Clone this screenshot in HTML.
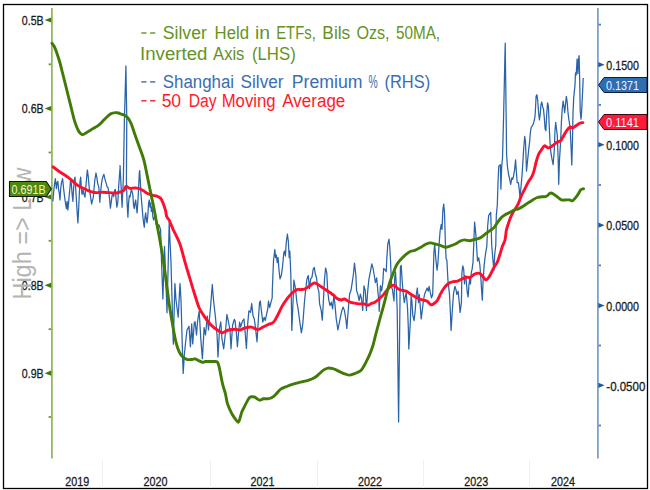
<!DOCTYPE html>
<html><head><meta charset="utf-8"><style>
html,body{margin:0;padding:0;background:#fff;overflow:hidden;}
svg{display:block;font-family:"Liberation Sans", sans-serif;}
</style></head><body>
<svg width="650" height="490" viewBox="0 0 650 490">
<rect x="3.5" y="4.5" width="644" height="484" fill="none" stroke="#000" stroke-width="1.3"/>
<line x1="102.5" y1="460" x2="102.5" y2="488" stroke="#f0f0f0" stroke-width="1"/>
<line x1="210.5" y1="460" x2="210.5" y2="488" stroke="#f0f0f0" stroke-width="1"/>
<line x1="317.5" y1="460" x2="317.5" y2="488" stroke="#f0f0f0" stroke-width="1"/>
<line x1="423.5" y1="460" x2="423.5" y2="488" stroke="#f0f0f0" stroke-width="1"/>
<line x1="529.5" y1="460" x2="529.5" y2="488" stroke="#f0f0f0" stroke-width="1"/>
<line x1="51.9" y1="8" x2="51.9" y2="458.5" stroke="#94b860" stroke-width="1.8"/>
<line x1="597.9" y1="8" x2="597.9" y2="458.5" stroke="#7ba3cb" stroke-width="1.8"/>
<path d="M44.6 20 L51.2 17.4 L51.2 22.6 Z" fill="#3d7a05"/>
<text x="43.6" y="24.6" text-anchor="end" font-size="13.6" fill="#1a1a1a" stroke="#1a1a1a" stroke-width="0.3" textLength="21.8" lengthAdjust="spacingAndGlyphs">0.5B</text>
<path d="M44.6 108.5 L51.2 105.9 L51.2 111.1 Z" fill="#3d7a05"/>
<text x="43.6" y="113.1" text-anchor="end" font-size="13.6" fill="#1a1a1a" stroke="#1a1a1a" stroke-width="0.3" textLength="21.8" lengthAdjust="spacingAndGlyphs">0.6B</text>
<path d="M44.6 197 L51.2 194.4 L51.2 199.6 Z" fill="#3d7a05"/>
<text x="43.6" y="201.6" text-anchor="end" font-size="13.6" fill="#1a1a1a" stroke="#1a1a1a" stroke-width="0.3" textLength="21.8" lengthAdjust="spacingAndGlyphs">0.7B</text>
<path d="M44.6 285.3 L51.2 282.7 L51.2 287.90000000000003 Z" fill="#3d7a05"/>
<text x="43.6" y="289.90000000000003" text-anchor="end" font-size="13.6" fill="#1a1a1a" stroke="#1a1a1a" stroke-width="0.3" textLength="21.8" lengthAdjust="spacingAndGlyphs">0.8B</text>
<path d="M44.6 373.2 L51.2 370.59999999999997 L51.2 375.8 Z" fill="#3d7a05"/>
<text x="43.6" y="377.8" text-anchor="end" font-size="13.6" fill="#1a1a1a" stroke="#1a1a1a" stroke-width="0.3" textLength="21.8" lengthAdjust="spacingAndGlyphs">0.9B</text>
<line x1="48.6" y1="64.3" x2="51" y2="64.3" stroke="#6a9e35" stroke-width="1.8"/>
<line x1="48.6" y1="152.5" x2="51" y2="152.5" stroke="#6a9e35" stroke-width="1.8"/>
<line x1="48.6" y1="240.8" x2="51" y2="240.8" stroke="#6a9e35" stroke-width="1.8"/>
<line x1="48.6" y1="329.2" x2="51" y2="329.2" stroke="#6a9e35" stroke-width="1.8"/>
<line x1="48.6" y1="417" x2="51" y2="417" stroke="#6a9e35" stroke-width="1.8"/>
<path d="M604.6 64.7 L598.3 62.1 L598.3 67.3 Z" fill="#1f5aa0"/>
<text x="606.3" y="69.9" font-size="12.8" fill="#1a1a1a" stroke="#1a1a1a" stroke-width="0.3" textLength="32.7" lengthAdjust="spacingAndGlyphs">0.1500</text>
<path d="M604.6 144.7 L598.3 142.1 L598.3 147.29999999999998 Z" fill="#1f5aa0"/>
<text x="606.3" y="149.89999999999998" font-size="12.8" fill="#1a1a1a" stroke="#1a1a1a" stroke-width="0.3" textLength="32.7" lengthAdjust="spacingAndGlyphs">0.1000</text>
<path d="M604.6 225.2 L598.3 222.6 L598.3 227.79999999999998 Z" fill="#1f5aa0"/>
<text x="606.3" y="230.39999999999998" font-size="12.8" fill="#1a1a1a" stroke="#1a1a1a" stroke-width="0.3" textLength="32.7" lengthAdjust="spacingAndGlyphs">0.0500</text>
<path d="M604.6 305.6 L598.3 303.0 L598.3 308.20000000000005 Z" fill="#1f5aa0"/>
<text x="606.3" y="310.8" font-size="12.8" fill="#1a1a1a" stroke="#1a1a1a" stroke-width="0.3" textLength="32.7" lengthAdjust="spacingAndGlyphs">0.0000</text>
<path d="M604.6 385.3 L598.3 382.7 L598.3 387.90000000000003 Z" fill="#1f5aa0"/>
<text x="606.3" y="390.5" font-size="12.8" fill="#1a1a1a" stroke="#1a1a1a" stroke-width="0.3" textLength="39" lengthAdjust="spacingAndGlyphs">-0.0500</text>
<line x1="598.5" y1="24.6" x2="601" y2="24.6" stroke="#4a80c0" stroke-width="1.8"/>
<line x1="598.5" y1="104.9" x2="601" y2="104.9" stroke="#4a80c0" stroke-width="1.8"/>
<line x1="598.5" y1="185" x2="601" y2="185" stroke="#4a80c0" stroke-width="1.8"/>
<line x1="598.5" y1="265.4" x2="601" y2="265.4" stroke="#4a80c0" stroke-width="1.8"/>
<line x1="598.5" y1="345.5" x2="601" y2="345.5" stroke="#4a80c0" stroke-width="1.8"/>
<line x1="598.5" y1="425.5" x2="601" y2="425.5" stroke="#4a80c0" stroke-width="1.8"/>
<text x="77.2" y="485.6" text-anchor="middle" font-size="13.2" fill="#1a1a1a" stroke="#1a1a1a" stroke-width="0.3" textLength="24" lengthAdjust="spacingAndGlyphs">2019</text>
<text x="155.4" y="485.6" text-anchor="middle" font-size="13.2" fill="#1a1a1a" stroke="#1a1a1a" stroke-width="0.3" textLength="24" lengthAdjust="spacingAndGlyphs">2020</text>
<text x="262.5" y="485.6" text-anchor="middle" font-size="13.2" fill="#1a1a1a" stroke="#1a1a1a" stroke-width="0.3" textLength="24" lengthAdjust="spacingAndGlyphs">2021</text>
<text x="370" y="485.6" text-anchor="middle" font-size="13.2" fill="#1a1a1a" stroke="#1a1a1a" stroke-width="0.3" textLength="24" lengthAdjust="spacingAndGlyphs">2022</text>
<text x="476.2" y="485.6" text-anchor="middle" font-size="13.2" fill="#1a1a1a" stroke="#1a1a1a" stroke-width="0.3" textLength="24" lengthAdjust="spacingAndGlyphs">2023</text>
<text x="563.1" y="485.6" text-anchor="middle" font-size="13.2" fill="#1a1a1a" stroke="#1a1a1a" stroke-width="0.3" textLength="24" lengthAdjust="spacingAndGlyphs">2024</text>
<text transform="translate(30.5,299.6) rotate(-90)" font-size="25" fill="#b4b4b4" textLength="132" lengthAdjust="spacingAndGlyphs">High =&gt; Low</text>
<polyline points="52.9,201.4 53.6,192.9 54.3,185.7 55.4,178.6 56.4,188.6 57.1,182.9 57.9,181.4 58.6,190.0 59.3,192.9 60.0,200.0 60.7,188.6 61.4,182.9 62.6,178.6 63.6,188.6 64.3,194.3 65.0,200.0 65.7,204.3 66.4,208.6 67.1,201.4 67.9,210.0 68.6,202.9 69.3,194.3 70.0,187.1 70.7,178.6 71.4,184.3 72.1,194.3 72.9,201.4 73.6,188.6 74.3,180.0 75.0,177.1 75.7,188.6 76.4,200.0 77.1,211.4 77.9,222.9 78.6,210.0 79.3,194.3 80.0,181.4 80.7,177.1 81.4,188.6 82.1,194.3 83.1,190.0 84.0,194.3 85.0,197.1 85.7,188.6 86.9,174.3 87.4,170.0 88.3,177.1 89.3,188.6 90.0,192.6 91.6,204.0 92.4,200.7 93.3,197.4 94.1,187.7 94.9,179.5 96.0,173.0 96.9,177.9 97.7,183.6 98.5,186.0 99.0,189.3 99.8,202.3 100.6,192.6 101.4,184.4 102.2,179.5 103.1,176.2 103.9,174.3 104.7,177.9 105.5,181.1 106.3,183.6 107.1,186.8 108.0,187.7 108.8,192.6 109.6,199.1 110.4,208.1 111.2,202.3 112.0,195.8 112.9,192.6 113.7,196.6 114.5,190.9 115.3,189.3 116.1,199.1 116.9,207.2 117.8,202.3 118.6,187.7 119.4,176.2 120.2,166.4 120.0,165.7 120.7,178.6 122.1,207.1 122.9,188.6 123.4,177.1 124.4,120.0 125.9,66.0 126.8,120.0 126.4,181.4 127.1,202.9 127.9,217.1 128.6,202.9 129.3,195.7 130.0,197.1 130.7,192.9 131.4,190.0 132.1,191.4 132.9,195.7 133.6,205.7 134.3,208.6 135.0,202.9 135.7,200.0 136.4,207.1 137.1,212.9 137.9,201.4 138.6,188.6 139.3,172.9 139.7,170.7 140.3,181.4 141.1,195.7 142.1,207.1 142.9,217.1 143.6,222.9 144.3,227.1 145.0,217.1 145.7,212.9 146.4,220.0 147.1,222.9 147.9,214.3 148.6,202.9 149.3,200.0 150.0,207.1 150.7,202.9 151.4,211.4 152.1,207.1 152.9,217.1 153.6,220.0 154.9,215.3 156.5,225.1 159.0,224.9 160.6,229.8 161.5,261.0 162.9,299.0 164.5,246.5 165.6,272.7 167.0,312.7 169.2,222.5 171.0,262.9 173.3,344.2 174.9,283.5 176.0,300.0 178.2,317.2 180.0,283.5 181.0,300.0 182.7,359.9 183.2,373.4 184.3,355.0 185.4,344.2 187.0,330.0 189.0,326.2 190.4,346.8 191.7,323.9 192.7,343.9 194.3,322.7 195.1,321.7 196.5,335.0 197.6,321.0 199.2,311.2 200.8,339.0 202.4,358.6 204.1,327.6 205.5,335.0 207.3,316.1 208.5,330.0 210.6,306.3 212.3,284.5 213.5,300.0 215.5,317.8 217.1,335.7 218.0,357.0 219.6,327.6 220.8,322.0 222.0,339.0 223.7,348.8 225.2,335.0 226.9,314.5 228.5,322.0 230.0,330.0 231.0,348.8 232.6,325.0 234.3,319.4 235.0,320.6 236.3,332.0 237.4,346.7 238.6,332.0 239.6,322.2 240.7,327.1 241.5,323.9 242.8,320.6 244.0,319.0 245.1,332.0 246.4,348.4 247.7,323.9 248.9,310.8 250.5,312.4 251.7,303.5 253.0,315.7 254.3,319.0 255.4,327.1 257.0,341.8 258.2,322.2 259.5,302.7 260.3,301.0 261.4,310.8 262.8,322.2 264.1,317.3 265.2,320.6 266.3,315.7 267.7,309.2 268.5,301.0 269.6,307.6 270.9,302.7 272.2,297.8 272.3,290.3 273.5,260.9 274.8,249.5 275.6,257.7 276.4,255.0 277.2,262.6 278.1,257.7 279.0,270.0 280.0,278.9 281.3,275.6 282.6,266.0 283.8,252.8 284.6,251.0 285.4,256.0 286.2,243.0 287.4,234.0 288.3,241.0 289.2,257.7 289.8,251.0 290.8,274.0 291.4,303.4 291.8,330.4 293.0,302.7 293.9,280.0 295.2,287.0 296.0,293.6 296.8,302.0 297.9,307.6 299.0,315.7 300.3,325.5 301.4,332.9 302.8,323.9 304.4,302.7 305.5,291.2 306.8,279.8 307.6,277.0 308.3,275.6 309.4,288.7 310.7,278.9 312.0,277.2 313.2,269.1 314.3,267.4 315.3,274.0 316.4,277.2 317.6,287.0 318.9,291.9 319.6,303.9 321.2,310.4 322.3,320.2 323.5,299.0 324.5,279.4 325.6,268.0 326.8,272.9 327.7,290.8 328.9,300.6 330.0,305.5 331.3,302.2 332.6,308.8 333.8,295.7 334.9,303.9 336.2,318.6 337.9,330.0 339.5,321.8 340.8,315.3 341.9,310.4 343.1,307.1 344.4,310.4 346.0,320.2 346.8,328.4 348.5,307.1 349.6,294.1 350.9,290.8 352.2,282.7 353.4,274.5 354.5,263.1 355.8,274.5 356.6,290.8 357.8,294.1 359.1,300.6 360.4,294.1 361.5,299.0 362.7,310.4 364.0,285.9 365.3,290.8 366.4,310.4 367.6,292.4 368.9,279.4 370.5,271.2 371.8,263.9 373.0,268.0 374.1,274.5 375.4,282.7 376.7,277.8 377.9,291.7 378.9,301.5 379.2,311.3 380.4,285.6 381.6,290.8 382.8,282.7 383.6,268.6 384.9,269.6 386.2,271.8 386.9,257.1 387.8,244.1 389.0,239.2 389.8,247.3 390.6,262.0 391.5,286.3 392.5,290.0 394.0,301.0 394.8,276.5 395.5,271.8 396.3,285.0 397.2,310.8 398.6,422.0 400.0,300.0 400.4,266.9 401.2,265.3 402.1,279.8 403.0,291.2 404.3,302.7 405.4,296.1 406.2,292.9 407.5,307.6 408.3,327.1 408.8,349.0 410.3,322.2 411.1,296.1 411.9,301.0 412.8,315.7 414.1,320.6 415.2,310.8 416.3,294.5 417.3,288.0 418.5,302.7 419.3,294.5 420.6,310.8 421.2,319.0 422.6,307.6 423.4,301.0 424.5,294.5 425.8,291.2 427.1,288.0 428.3,291.2 429.1,286.3 430.4,292.9 431.5,297.8 432.7,294.5 433.1,280.0 433.9,252.2 434.7,244.1 435.8,258.8 437.1,270.2 438.0,262.0 439.1,244.1 440.1,231.0 441.2,224.5 442.0,229.4 442.9,209.8 443.7,204.1 444.5,213.1 445.3,240.8 446.1,258.8 446.9,260.4 447.9,279.8 449.5,294.5 450.3,310.8 451.1,330.4 452.3,310.8 453.6,292.9 454.9,286.3 456.0,289.6 456.8,294.5 458.1,291.2 459.3,302.7 460.1,312.4 461.4,302.7 461.9,272.4 462.8,265.9 463.7,269.2 464.5,283.9 465.1,275.7 466.1,279.0 467.2,292.0 468.1,296.9 468.9,285.5 469.7,279.0 470.5,283.9 471.3,272.4 472.1,269.2 473.0,262.7 473.8,243.1 474.6,222.0 475.9,234.9 476.7,248.0 477.5,261.0 478.7,257.8 479.8,264.3 480.8,277.3 481.6,290.4 482.3,300.2 483.1,280.6 484.1,265.9 485.2,256.1 486.0,251.2 486.8,246.3 487.7,225.6 488.7,215.4 490.7,212.3 491.7,245.0 492.9,259.4 493.9,270.8 494.7,254.5 495.8,245.0 496.3,215.4 497.3,205.2 498.0,182.7 498.8,166.3 499.6,165.5 500.4,164.7 500.9,189.2 501.7,166.3 502.5,158.2 503.5,120.0 505.2,43.2 506.2,120.0 506.6,155.0 507.4,166.3 508.6,174.5 509.7,179.4 510.7,184.3 511.8,177.8 512.7,179.4 513.5,176.1 514.6,169.6 515.6,159.8 516.2,169.6 517.2,182.7 518.4,182.7 519.2,189.2 520.0,197.3 520.8,189.2 522.1,174.5 522.8,163.1 523.6,150.0 524.7,136.3 525.5,142.0 526.5,171.2 527.3,163.1 528.8,148.6 529.6,142.0 530.4,132.2 531.2,127.3 532.5,125.7 533.2,124.1 534.2,120.8 534.8,117.6 535.3,112.7 536.1,96.3 536.9,94.7 537.8,101.2 538.6,112.7 539.4,120.0 540.2,114.3 541.0,104.5 541.8,102.0 542.7,106.9 543.5,109.4 544.3,117.6 545.1,129.0 545.9,130.6 546.7,114.3 547.6,102.9 548.4,106.1 549.2,125.7 550.0,142.0 550.8,151.8 551.8,158.2 553.1,164.7 554.3,150.0 554.9,132.2 555.7,122.4 556.5,129.0 557.3,135.5 558.2,160.0 558.7,184.3 559.5,160.0 560.6,142.0 561.4,122.4 562.2,109.4 563.1,101.2 563.9,106.1 564.7,112.7 565.5,104.5 566.3,96.3 567.1,101.2 568.0,112.7 568.8,119.2 570.1,127.3 571.2,150.0 571.8,165.0 572.5,140.0 573.0,112.7 573.7,98.0 575.0,84.9 575.5,72.9 576.2,75.0 577.1,59.0 577.9,73.7 578.5,59.8 579.1,55.7 579.7,80.0 580.2,111.0 581.0,119.2 581.5,113.5 582.7,89.8 583.2,78.0" fill="none" stroke="#2a63a8" stroke-width="1.25" stroke-linejoin="round"/>
<path d="M53.10 166.90 C54.12 167.67 56.63 169.70 59.20 171.50 C61.77 173.30 65.42 175.38 68.50 177.70 C71.58 180.02 74.63 183.35 77.70 185.40 C80.77 187.45 84.08 188.82 86.90 190.00 C89.72 191.18 91.78 192.13 94.60 192.50 C97.42 192.87 100.47 192.10 103.80 192.20 C107.13 192.30 111.90 193.13 114.60 193.10 C117.30 193.07 118.47 192.43 120.00 192.00 C121.53 191.57 122.90 191.33 123.80 190.50 C124.70 189.67 124.95 187.67 125.40 187.00 C125.85 186.33 125.73 186.27 126.50 186.50 C127.27 186.73 128.60 188.17 130.00 188.40 C131.40 188.63 133.27 187.82 134.90 187.90 C136.53 187.98 138.37 188.42 139.80 188.90 C141.23 189.38 142.28 190.07 143.50 190.80 C144.72 191.53 145.68 192.57 147.10 193.30 C148.52 194.03 150.37 194.72 152.00 195.20 C153.63 195.68 155.47 195.70 156.90 196.20 C158.33 196.70 159.57 197.05 160.60 198.20 C161.63 199.35 162.28 201.07 163.10 203.10 C163.92 205.13 164.90 208.17 165.50 210.40 C166.10 212.63 166.08 214.87 166.70 216.50 C167.32 218.13 168.15 218.08 169.20 220.20 C170.25 222.32 171.62 226.17 173.00 229.20 C174.38 232.23 176.23 235.60 177.50 238.40 C178.77 241.20 179.32 241.92 180.60 246.00 C181.88 250.08 183.67 257.53 185.20 262.90 C186.73 268.27 188.27 273.10 189.80 278.20 C191.33 283.30 192.83 288.53 194.40 293.50 C195.97 298.47 197.58 304.23 199.20 308.00 C200.82 311.77 202.47 313.65 204.10 316.10 C205.73 318.55 207.37 320.78 209.00 322.70 C210.63 324.62 212.27 326.25 213.90 327.60 C215.53 328.95 217.45 329.93 218.80 330.80 C220.15 331.67 220.37 332.93 222.00 332.80 C223.63 332.67 226.42 330.60 228.60 330.00 C230.78 329.40 233.20 329.20 235.10 329.20 C237.00 329.20 238.38 330.20 240.00 330.00 C241.62 329.80 242.92 328.48 244.80 328.00 C246.68 327.52 249.12 326.83 251.30 327.10 C253.48 327.37 255.98 329.60 257.90 329.60 C259.82 329.60 261.17 327.92 262.80 327.10 C264.43 326.28 265.93 325.52 267.70 324.70 C269.47 323.88 271.78 323.70 273.40 322.20 C275.02 320.70 275.92 318.42 277.40 315.70 C278.88 312.98 280.67 308.75 282.30 305.90 C283.93 303.05 285.70 300.63 287.20 298.60 C288.70 296.57 289.67 295.20 291.30 293.70 C292.93 292.20 295.50 290.28 297.00 289.60 C298.50 288.92 298.93 289.73 300.30 289.60 C301.67 289.47 303.57 289.48 305.20 288.80 C306.83 288.12 308.50 286.47 310.10 285.50 C311.70 284.53 313.07 282.88 314.80 283.00 C316.53 283.12 318.73 285.12 320.50 286.20 C322.27 287.28 323.77 288.40 325.40 289.50 C327.03 290.60 328.93 291.85 330.30 292.80 C331.67 293.75 332.48 294.23 333.60 295.20 C334.72 296.17 335.70 297.80 337.00 298.60 C338.30 299.40 340.17 299.93 341.40 300.00 C342.63 300.07 343.08 298.68 344.40 299.00 C345.72 299.32 347.67 301.22 349.30 301.90 C350.93 302.58 352.57 302.77 354.20 303.10 C355.83 303.43 357.47 303.77 359.10 303.90 C360.73 304.03 362.50 303.68 364.00 303.90 C365.50 304.12 366.75 305.33 368.10 305.20 C369.45 305.07 371.03 303.57 372.10 303.10 C373.17 302.63 373.35 303.08 374.50 302.40 C375.65 301.72 377.50 300.30 379.00 299.00 C380.50 297.70 382.00 296.28 383.50 294.60 C385.00 292.92 386.70 290.40 388.00 288.90 C389.30 287.40 390.18 286.15 391.30 285.60 C392.42 285.05 393.57 285.05 394.70 285.60 C395.83 286.15 396.97 288.15 398.10 288.90 C399.23 289.65 400.18 289.72 401.50 290.10 C402.82 290.48 404.52 290.57 406.00 291.20 C407.48 291.83 408.92 292.97 410.40 293.90 C411.88 294.83 413.40 295.95 414.90 296.80 C416.40 297.65 417.90 298.43 419.40 299.00 C420.90 299.57 422.58 299.82 423.90 300.20 C425.22 300.58 426.17 300.55 427.30 301.30 C428.43 302.05 429.58 304.33 430.70 304.70 C431.82 305.07 432.88 304.25 434.00 303.50 C435.12 302.75 436.27 301.88 437.40 300.20 C438.53 298.52 439.67 295.47 440.80 293.40 C441.93 291.33 442.88 289.48 444.20 287.80 C445.52 286.12 447.22 284.32 448.70 283.30 C450.18 282.28 451.62 282.07 453.10 281.70 C454.58 281.33 456.10 281.58 457.60 281.10 C459.10 280.62 460.60 279.45 462.10 278.80 C463.60 278.15 465.28 277.43 466.60 277.20 C467.92 276.97 468.67 277.92 470.00 277.40 C471.33 276.88 473.02 274.78 474.60 274.10 C476.18 273.42 478.13 272.90 479.50 273.30 C480.87 273.70 481.72 275.42 482.80 276.50 C483.88 277.58 484.92 279.80 486.00 279.80 C487.08 279.80 488.07 278.40 489.30 276.50 C490.53 274.60 492.05 270.85 493.40 268.40 C494.75 265.95 496.32 264.12 497.40 261.80 C498.48 259.48 499.05 257.13 499.90 254.50 C500.75 251.87 501.65 248.42 502.50 246.00 C503.35 243.58 504.35 242.67 505.00 240.00 C505.65 237.33 505.80 232.85 506.40 230.00 C507.00 227.15 507.88 225.05 508.60 222.90 C509.32 220.75 509.87 219.02 510.70 217.10 C511.53 215.18 512.65 213.07 513.60 211.40 C514.55 209.73 515.57 208.52 516.40 207.10 C517.23 205.68 517.77 204.80 518.60 202.90 C519.43 201.00 520.45 197.85 521.40 195.70 C522.35 193.55 523.47 191.67 524.30 190.00 C525.13 188.33 525.68 187.13 526.40 185.70 C527.12 184.27 527.88 182.58 528.60 181.40 C529.32 180.22 529.98 179.78 530.70 178.60 C531.42 177.42 532.27 175.90 532.90 174.30 C533.53 172.70 533.92 171.22 534.50 169.00 C535.08 166.78 535.72 163.45 536.40 161.00 C537.08 158.55 537.77 156.13 538.60 154.30 C539.43 152.47 540.45 151.40 541.40 150.00 C542.35 148.60 543.47 146.43 544.30 145.90 C545.13 145.37 545.68 146.47 546.40 146.80 C547.12 147.13 547.77 147.97 548.60 147.90 C549.43 147.83 550.45 147.00 551.40 146.40 C552.35 145.80 553.35 145.02 554.30 144.30 C555.25 143.58 556.03 142.70 557.10 142.10 C558.17 141.50 559.73 141.53 560.70 140.70 C561.67 139.87 562.07 138.53 562.90 137.10 C563.73 135.67 564.75 133.57 565.70 132.10 C566.65 130.63 567.83 129.17 568.60 128.30 C569.37 127.43 569.72 126.97 570.30 126.90 C570.88 126.83 571.43 127.90 572.10 127.90 C572.77 127.90 573.47 127.38 574.30 126.90 C575.13 126.42 576.15 125.63 577.10 125.00 C578.05 124.37 579.03 123.50 580.00 123.10 C580.97 122.70 582.42 122.68 582.90 122.60" fill="none" stroke="#ff0f2f" stroke-width="2.9" stroke-linejoin="round" stroke-linecap="round"/>
<path d="M52.00 43.20 C52.42 43.83 53.67 45.28 54.50 47.00 C55.33 48.72 56.08 50.83 57.00 53.50 C57.92 56.17 59.13 59.97 60.00 63.00 C60.87 66.03 61.48 68.87 62.20 71.70 C62.92 74.53 63.62 77.28 64.30 80.00 C64.98 82.72 65.62 85.25 66.30 88.00 C66.98 90.75 67.72 93.77 68.40 96.50 C69.08 99.23 69.72 101.65 70.40 104.40 C71.08 107.15 71.82 110.28 72.50 113.00 C73.18 115.72 73.83 118.45 74.50 120.70 C75.17 122.95 75.82 124.80 76.50 126.50 C77.18 128.20 77.92 129.73 78.60 130.90 C79.28 132.07 79.92 132.88 80.60 133.50 C81.28 134.12 81.68 134.77 82.70 134.60 C83.72 134.43 85.35 133.28 86.70 132.50 C88.05 131.72 89.42 130.73 90.80 129.90 C92.18 129.07 93.63 128.35 95.00 127.50 C96.37 126.65 97.83 125.72 99.00 124.80 C100.17 123.88 100.98 123.02 102.00 122.00 C103.02 120.98 104.10 119.70 105.10 118.70 C106.10 117.70 106.98 116.85 108.00 116.00 C109.02 115.15 109.98 114.17 111.20 113.60 C112.42 113.03 114.08 112.70 115.30 112.60 C116.52 112.50 117.48 112.73 118.50 113.00 C119.52 113.27 120.48 113.87 121.40 114.20 C122.32 114.53 123.15 114.60 124.00 115.00 C124.85 115.40 125.67 115.85 126.50 116.60 C127.33 117.35 128.15 118.13 129.00 119.50 C129.85 120.87 130.62 122.30 131.60 124.80 C132.58 127.30 133.62 130.85 134.90 134.50 C136.18 138.15 137.98 143.03 139.30 146.70 C140.62 150.37 141.93 153.83 142.80 156.50 C143.67 159.17 143.92 160.25 144.50 162.70 C145.08 165.15 145.58 167.73 146.30 171.20 C147.02 174.67 147.97 179.42 148.80 183.50 C149.63 187.58 150.45 191.62 151.30 195.70 C152.15 199.78 153.10 203.95 153.90 208.00 C154.70 212.05 155.32 215.83 156.10 220.00 C156.88 224.17 157.58 227.38 158.60 233.00 C159.62 238.62 161.08 246.68 162.20 253.70 C163.32 260.72 164.37 268.47 165.30 275.10 C166.23 281.73 167.03 287.88 167.80 293.50 C168.57 299.12 169.03 303.20 169.90 308.80 C170.77 314.40 171.98 321.50 173.00 327.10 C174.02 332.70 174.98 338.32 176.00 342.40 C177.02 346.48 178.08 349.30 179.10 351.60 C180.12 353.90 180.83 354.92 182.10 356.20 C183.37 357.48 185.05 358.75 186.70 359.30 C188.35 359.85 190.62 359.57 192.00 359.50 C193.38 359.43 193.92 358.72 195.00 358.90 C196.08 359.08 197.20 360.02 198.50 360.60 C199.80 361.18 201.65 362.25 202.80 362.40 C203.95 362.55 204.10 361.65 205.40 361.50 C206.70 361.35 209.00 361.50 210.60 361.50 C212.20 361.50 213.83 361.35 215.00 361.50 C216.17 361.65 216.88 361.38 217.60 362.40 C218.32 363.42 218.73 365.30 219.30 367.60 C219.87 369.90 220.42 373.32 221.00 376.20 C221.58 379.08 222.07 382.00 222.80 384.90 C223.53 387.80 224.68 390.70 225.40 393.60 C226.12 396.50 226.38 399.70 227.10 402.30 C227.82 404.90 228.83 407.18 229.70 409.20 C230.57 411.22 231.28 412.67 232.30 414.40 C233.32 416.13 234.78 418.30 235.80 419.60 C236.82 420.90 237.68 422.48 238.40 422.20 C239.12 421.92 239.52 419.63 240.10 417.90 C240.68 416.17 241.17 413.68 241.90 411.80 C242.63 409.92 243.63 408.33 244.50 406.60 C245.37 404.87 246.23 402.93 247.10 401.40 C247.97 399.87 248.83 398.18 249.70 397.40 C250.57 396.62 251.43 396.75 252.30 396.70 C253.17 396.65 254.03 396.70 254.90 397.10 C255.77 397.50 256.63 398.58 257.50 399.10 C258.37 399.62 259.10 400.25 260.10 400.20 C261.10 400.15 262.20 399.03 263.50 398.80 C264.80 398.57 266.65 398.93 267.90 398.80 C269.15 398.67 270.03 398.42 271.00 398.00 C271.97 397.58 272.63 397.20 273.70 396.30 C274.77 395.40 276.17 393.83 277.40 392.60 C278.63 391.37 279.57 389.92 281.10 388.90 C282.63 387.88 284.75 387.27 286.60 386.50 C288.45 385.73 290.35 384.92 292.20 384.30 C294.05 383.68 295.87 383.27 297.70 382.80 C299.53 382.33 301.35 381.93 303.20 381.50 C305.05 381.07 306.95 380.82 308.80 380.20 C310.65 379.58 312.62 378.80 314.30 377.80 C315.98 376.80 317.37 375.48 318.90 374.20 C320.43 372.92 321.95 371.12 323.50 370.10 C325.05 369.08 326.65 368.35 328.20 368.10 C329.75 367.85 331.42 368.27 332.80 368.60 C334.18 368.93 335.12 369.48 336.50 370.10 C337.88 370.72 339.57 371.62 341.10 372.30 C342.63 372.98 344.32 373.73 345.70 374.20 C347.08 374.67 348.02 375.17 349.40 375.10 C350.78 375.03 352.62 374.27 354.00 373.80 C355.38 373.33 356.47 372.95 357.70 372.30 C358.93 371.65 360.33 370.98 361.40 369.90 C362.47 368.82 363.18 367.40 364.10 365.80 C365.02 364.20 365.97 362.20 366.90 360.30 C367.83 358.40 368.72 356.78 369.70 354.40 C370.68 352.02 371.75 349.48 372.80 346.00 C373.85 342.52 374.87 337.83 376.00 333.50 C377.13 329.17 378.33 324.65 379.60 320.00 C380.87 315.35 382.42 310.03 383.60 305.60 C384.78 301.17 385.67 297.27 386.70 293.40 C387.73 289.53 388.78 285.60 389.80 282.40 C390.82 279.20 391.60 277.23 392.80 274.20 C394.00 271.17 395.37 266.98 397.00 264.20 C398.63 261.42 400.55 259.55 402.60 257.50 C404.65 255.45 407.25 253.10 409.30 251.90 C411.35 250.70 413.02 251.05 414.90 250.30 C416.78 249.55 418.72 248.45 420.60 247.40 C422.48 246.35 424.52 244.75 426.20 244.00 C427.88 243.25 429.20 242.90 430.70 242.90 C432.20 242.90 433.70 243.63 435.20 244.00 C436.70 244.37 438.02 244.53 439.70 245.10 C441.38 245.67 443.62 247.22 445.30 247.40 C446.98 247.58 448.12 246.77 449.80 246.20 C451.48 245.63 453.72 244.82 455.40 244.00 C457.08 243.18 458.40 241.98 459.90 241.30 C461.40 240.62 462.72 239.98 464.40 239.90 C466.08 239.82 468.45 240.85 470.00 240.80 C471.55 240.75 472.32 239.95 473.70 239.60 C475.08 239.25 476.92 239.17 478.30 238.70 C479.68 238.23 480.77 237.63 482.00 236.80 C483.23 235.97 484.32 234.77 485.70 233.70 C487.08 232.63 488.92 231.42 490.30 230.40 C491.68 229.38 492.77 228.98 494.00 227.60 C495.23 226.22 496.47 223.78 497.70 222.10 C498.93 220.42 500.17 218.73 501.40 217.50 C502.63 216.27 503.72 215.53 505.10 214.70 C506.48 213.87 508.17 213.27 509.70 212.50 C511.23 211.73 512.77 210.75 514.30 210.10 C515.83 209.45 517.37 209.28 518.90 208.60 C520.43 207.92 521.95 206.98 523.50 206.00 C525.05 205.02 526.65 203.72 528.20 202.70 C529.75 201.68 531.27 200.77 532.80 199.90 C534.33 199.03 535.87 198.02 537.40 197.50 C538.93 196.98 540.47 197.02 542.00 196.80 C543.53 196.58 545.22 196.82 546.60 196.20 C547.98 195.58 549.07 193.40 550.30 193.10 C551.53 192.80 552.77 193.72 554.00 194.40 C555.23 195.08 556.47 196.28 557.70 197.20 C558.93 198.12 560.02 199.45 561.40 199.90 C562.78 200.35 564.62 199.90 566.00 199.90 C567.38 199.90 568.62 199.75 569.70 199.90 C570.78 200.05 571.58 201.10 572.50 200.80 C573.42 200.50 574.28 199.17 575.20 198.10 C576.12 197.03 577.07 195.78 578.00 194.40 C578.93 193.02 579.88 190.73 580.80 189.80 C581.72 188.87 583.05 188.97 583.50 188.80" fill="none" stroke="#3f7b05" stroke-width="2.9" stroke-linejoin="round" stroke-linecap="round"/>
<rect x="141.3" y="32.3" width="5.2" height="1.4" fill="#66931f"/><rect x="150.1" y="32.3" width="5.2" height="1.4" fill="#66931f"/>
<text x="162.72" y="38.7" font-size="18" fill="#66931f" textLength="44.09" lengthAdjust="spacingAndGlyphs">Silver</text>
<text x="214.57" y="38.7" font-size="18" fill="#66931f" textLength="34.49" lengthAdjust="spacingAndGlyphs">Held</text>
<text x="255.03" y="38.7" font-size="18" fill="#66931f" textLength="15.07" lengthAdjust="spacingAndGlyphs">in</text>
<text x="276.17" y="38.7" font-size="18" fill="#66931f" textLength="39.65" lengthAdjust="spacingAndGlyphs">ETFs,</text>
<text x="322.34" y="38.7" font-size="18" fill="#66931f" textLength="27.98" lengthAdjust="spacingAndGlyphs">Bils</text>
<text x="356.4" y="38.7" font-size="18" fill="#66931f" textLength="33.21" lengthAdjust="spacingAndGlyphs">Ozs,</text>
<text x="395.95" y="38.7" font-size="18" fill="#66931f" textLength="44.12" lengthAdjust="spacingAndGlyphs">50MA,</text>
<text x="140.07" y="59.6" font-size="18" fill="#66931f" textLength="67.32" lengthAdjust="spacingAndGlyphs">Inverted</text>
<text x="213.1" y="59.6" font-size="18" fill="#66931f" textLength="31.31" lengthAdjust="spacingAndGlyphs">Axis</text>
<text x="251.97" y="59.6" font-size="18" fill="#66931f" textLength="43.78" lengthAdjust="spacingAndGlyphs">(LHS)</text>
<rect x="141.3" y="81.2" width="5.2" height="1.4" fill="#3a6db3"/><rect x="150.1" y="81.2" width="5.2" height="1.4" fill="#3a6db3"/>
<text x="162.86" y="87.7" font-size="18" fill="#3a6db3" textLength="71.25" lengthAdjust="spacingAndGlyphs">Shanghai</text>
<text x="240.55" y="87.7" font-size="18" fill="#3a6db3" textLength="42.97" lengthAdjust="spacingAndGlyphs">Silver</text>
<text x="291.72" y="87.7" font-size="18" fill="#3a6db3" textLength="70.78" lengthAdjust="spacingAndGlyphs">Premium</text>
<text x="368.5" y="87.7" font-size="18" fill="#3a6db3" textLength="9.21" lengthAdjust="spacingAndGlyphs">%</text>
<text x="384.49" y="87.7" font-size="18" fill="#3a6db3" textLength="45.63" lengthAdjust="spacingAndGlyphs">(RHS)</text>
<rect x="141.3" y="100.1" width="5.2" height="1.4" fill="#ff1a2a"/><rect x="150.1" y="100.1" width="5.2" height="1.4" fill="#ff1a2a"/>
<text x="161.63" y="106.6" font-size="18" fill="#ff1a2a" textLength="19.5" lengthAdjust="spacingAndGlyphs">50</text>
<text x="188.63" y="106.6" font-size="18" fill="#ff1a2a" textLength="27.88" lengthAdjust="spacingAndGlyphs">Day</text>
<text x="221.67" y="106.6" font-size="18" fill="#ff1a2a" textLength="53.89" lengthAdjust="spacingAndGlyphs">Moving</text>
<text x="282.3" y="106.6" font-size="18" fill="#ff1a2a" textLength="62.98" lengthAdjust="spacingAndGlyphs">Average</text>
<path d="M9.5 181.5 L46.3 181.5 L51.3 189 L46.3 196.5 L9.5 196.5 Z" fill="#4c890c" stroke="#151a08" stroke-width="1.1"/>
<text x="11.6" y="193.6" font-size="13" fill="#f4f4d0" textLength="34" lengthAdjust="spacingAndGlyphs">0.691B</text>
<path d="M598.5 85 L604 77.5 L647 77.5 L647 92.5 L604 92.5 Z" fill="#2e6db0" stroke="#0e2038" stroke-width="1"/>
<text x="606" y="89.5" font-size="13" fill="#f0f4ff" textLength="33" lengthAdjust="spacingAndGlyphs">0.1371</text>
<path d="M598.5 122.0 L604 114.5 L647 114.5 L647 129.5 L604 129.5 Z" fill="#ff1a3c" stroke="#3a0810" stroke-width="1"/>
<text x="606" y="126.5" font-size="13" fill="#fff0f0" textLength="33" lengthAdjust="spacingAndGlyphs">0.1141</text>
</svg>
</body></html>
